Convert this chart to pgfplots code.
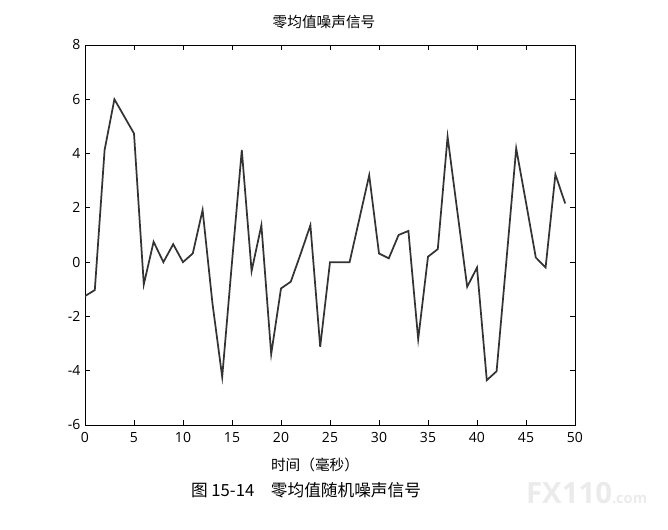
\documentclass[border=0pt]{standalone}
\usepackage{pgfplots}
\pgfplotsset{compat=1.18}
\usepackage{fontspec}
\setmainfont{Open Sans}
\newfontfamily\cjk{Noto Sans CJK SC}

\begin{document}
\begin{tikzpicture}
\path[use as bounding box] (0,0) rectangle (501pt,397.5pt);
\begin{axis}[
    at={(63.75pt,78.75pt)}, anchor=south west,
    scale only axis,
    width=367.5pt, height=285pt,
    xmin=0, xmax=50, ymin=-6, ymax=8,
    xtick={0,5,...,50}, ytick={-6,-4,...,8},
    tick align=inside, major tick length=4pt,
    tick style={black, line width=0.6pt},
    axis line style={line width=0.7pt},
    ticklabel style={font=\fontsize{10.5}{12}\selectfont},
    /pgf/number format/assume math mode=true,
    xticklabel style={yshift=-2pt},
]
\addplot[color=black!80, line width=1.3pt] coordinates {
(0,-1.25) (1,-1.03) (2,4.13) (3,6.0) (4,5.37) (5,4.74) (6,-0.82)
(7,0.75) (8,0.0) (9,0.66) (10,0.0) (11,0.32) (12,1.92) (13,-1.5)
(14,-4.23) (15,0.0) (16,4.13) (17,-0.33) (18,1.36) (19,-3.39) (20,-0.97)
(21,-0.72) (22,0.3) (23,1.36) (24,-3.12) (25,0.0) (26,0.0) (27,0.0)
(28,1.6) (29,3.2) (30,0.32) (31,0.14) (32,1.0) (33,1.15) (34,-2.84)
(35,0.2) (36,0.48) (37,4.62) (38,1.85) (39,-0.91) (40,-0.2) (41,-4.35)
(42,-4.02) (43,0.05) (44,4.19) (45,2.2) (46,0.17) (47,-0.2) (48,3.23)
(49,2.16)
};
\end{axis}
\node[font=\cjk\fontsize{11}{13}\selectfont] at (243pt,381pt) {零均值噪声信号};
\node[font=\cjk\fontsize{11}{13}\selectfont] at (236.25pt,48.75pt) {时间（毫秒）};
\node[font=\cjk\fontsize{12.5}{14}\selectfont] at (229.5pt,30pt) {图 15-14\quad 零均值随机噪声信号};
\node[font=\bfseries\fontsize{22}{24}\selectfont, text=black!8] at (440pt,28pt) {FX110{\fontsize{11}{12}\selectfont.com}};
\end{tikzpicture}
\end{document}
